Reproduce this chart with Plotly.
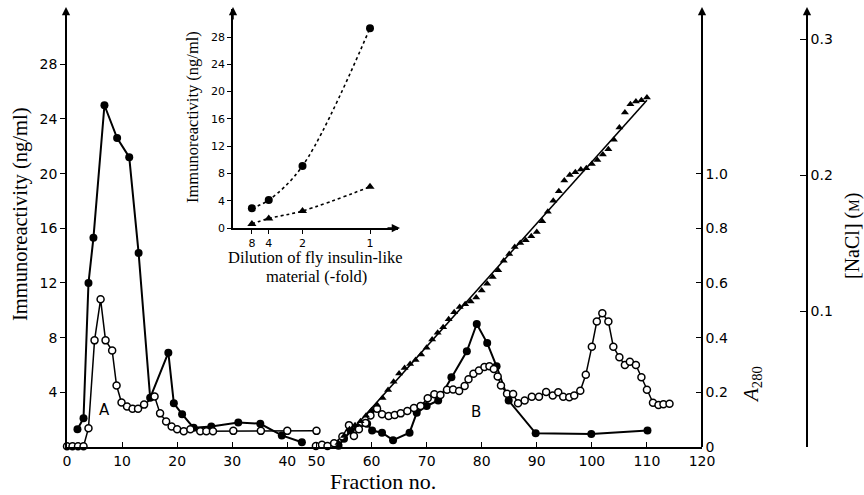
import plotly.graph_objects as go

W, H = 864, 495

# ---------------- main chart data ----------------
# closed circles: immunoreactivity (ng/ml)
closed_left_frac = [1.9, 3.0, 3.9, 4.8, 6.8, 9.1, 11.3, 13.0, 15.1, 18.4, 19.4, 20.9, 23.0, 26.2, 31.1, 35.1, 39.0, 45.0]
closed_left_ng = [1.3, 2.1, 12.0, 15.3, 25.0, 22.6, 21.2, 14.2, 3.6, 6.9, 3.2, 2.4, 1.4, 1.5, 1.8, 1.7, 0.85, 0.35]
closed_right_frac = [54.0, 55.0, 56.2, 57.5, 59.2, 60.1, 61.9, 63.9, 66.9, 68.2, 70.0, 72.1, 74.5, 77.3, 79.1, 81.0, 82.7, 84.9, 89.8, 99.9, 110.1]
closed_right_ng = [0.1, 0.6, 1.2, 1.4, 1.7, 1.2, 1.05, 0.5, 1.05, 2.5, 3.0, 3.4, 5.1, 7.0, 9.0, 7.6, 5.9, 3.4, 1.0, 0.95, 1.2]

# open circles: A280
open_left_frac = [0.0, 1.0, 2.0, 3.0, 3.9, 5.0, 6.1, 7.0, 8.2, 9.0, 9.9, 10.9, 11.9, 12.9, 14.0, 15.9, 16.9, 18.0, 19.0,
                  20.0, 21.2, 22.4, 24.2, 25.3, 26.5, 30.2, 35.2, 40.0, 50.0]
open_left_a280 = [0.003, 0.003, 0.003, 0.003, 0.069, 0.39, 0.54, 0.39, 0.353, 0.225, 0.163, 0.148, 0.14, 0.14, 0.155,
                  0.185, 0.123, 0.093, 0.075, 0.065, 0.058, 0.065, 0.058, 0.058, 0.058, 0.059, 0.059, 0.059, 0.059]
open_right_frac = [49.8, 51.0, 52.0, 53.2, 54.7, 55.9, 56.8, 57.7, 58.9, 59.8, 61.0, 61.9, 63.1, 64.2, 65.3, 66.5, 67.7,
                   68.9, 70.2, 71.4, 72.5, 73.7, 74.8, 75.9, 76.9, 77.6, 78.5, 79.5, 80.5, 81.4, 82.2, 82.9, 83.5, 84.6,
                   85.7, 86.6, 87.8, 89.1, 90.4, 91.7, 92.9, 93.9, 94.8, 95.9, 96.8, 97.9, 98.9, 100.0, 100.9, 101.9,
                   103.0, 103.9, 105.0, 106.0, 106.9, 108.0, 109.0, 110.0, 111.1, 112.1, 113.0, 114.1]
open_right_a280 = [0.004, 0.008, 0.004, 0.014, 0.038, 0.08, 0.04, 0.065, 0.088, 0.115, 0.14, 0.12, 0.113, 0.117, 0.123,
                   0.132, 0.143, 0.15, 0.178, 0.193, 0.19, 0.209, 0.21, 0.205, 0.223, 0.248, 0.268, 0.28, 0.293, 0.295,
                   0.285, 0.258, 0.225, 0.195, 0.194, 0.16, 0.17, 0.184, 0.184, 0.201, 0.188, 0.2, 0.184, 0.182, 0.188,
                   0.206, 0.264, 0.367, 0.459, 0.489, 0.459, 0.367, 0.328, 0.3, 0.312, 0.3, 0.255, 0.209, 0.162, 0.154,
                   0.156, 0.158]

# triangles: [NaCl] (M)
nacl_frac = [54, 55, 56, 57, 58, 59, 60, 61, 62, 63, 64, 65, 66, 67, 68, 69, 70, 71, 72, 73, 74, 75, 76, 77, 78, 79, 80,
             81, 82, 83, 84, 85, 86, 87, 88, 89, 90, 91, 92, 93, 94, 95, 96, 97, 98, 99, 100, 101, 102, 103, 104, 105,
             106, 107, 108, 109, 110]
nacl_m = [0.003, 0.008, 0.013, 0.016, 0.019, 0.023, 0.027, 0.031, 0.036, 0.042, 0.048, 0.054, 0.058, 0.061, 0.064,
          0.068, 0.073, 0.079, 0.084, 0.088, 0.094, 0.099, 0.103, 0.105, 0.107, 0.110, 0.115, 0.120, 0.125, 0.130,
          0.137, 0.142, 0.147, 0.150, 0.152, 0.155, 0.158, 0.166, 0.173, 0.181, 0.188, 0.196, 0.200, 0.202, 0.204,
          0.205, 0.208, 0.211, 0.215, 0.219, 0.226, 0.235, 0.246, 0.252, 0.254, 0.255, 0.257]
nacl_fit_frac = [53.7, 110]
nacl_fit_m = [0.0, 0.255]

frac_ticks = [0, 10, 20, 30, 40, 50, 60, 70, 80, 90, 100, 110, 120]
ng_ticks = [4, 8, 12, 16, 20, 24, 28]
a280_ticks = [0, 0.2, 0.4, 0.6, 0.8, 1.0]
a280_ticklabels = ["0", "0.2", "0.4", "0.6", "0.8", "1.0"]
nacl_ticks = [0, 0.1, 0.2, 0.3]
nacl_ticklabels = ["", "0.1", "0.2", "0.3"]

# ---------------- inset data ----------------
dilution = [8, 4, 2, 1]
inset_circle_ng = [2.9, 4.1, 9.1, 29.3]
inset_triangle_ng = [0.6, 1.4, 2.5, 6.05]
inset_ticks_ng = [0, 4, 8, 12, 16, 20, 24, 28]


# broken fraction axis: 40-50 compressed
def pos(f):
    if f <= 40:
        return f
    if f <= 50:
        return 40 + (f - 40) * 0.53
    return f - 4.7


def P(lst):
    return [pos(v) for v in lst]


def inv(lst):
    return [1.0 / d for d in lst]


fig = go.Figure()
blk = "black"

# closed circles
for fx, fy in [(closed_left_frac, closed_left_ng), (closed_right_frac, closed_right_ng)]:
    fig.add_trace(go.Scatter(x=P(fx), y=fy, mode="lines+markers", xaxis="x", yaxis="y",
                             line=dict(color=blk, width=2),
                             marker=dict(symbol="circle", size=8, color=blk), cliponaxis=False))
# open circles (A280)
for fx, fy in [(open_left_frac, open_left_a280), (open_right_frac, open_right_a280)]:
    fig.add_trace(go.Scatter(x=P(fx), y=fy, mode="lines+markers", xaxis="x", yaxis="y2",
                             line=dict(color=blk, width=1.5),
                             marker=dict(symbol="circle", size=7, color="white", line=dict(color=blk, width=1.5)),
                             cliponaxis=False))
# NaCl gradient
fig.add_trace(go.Scatter(x=P(nacl_fit_frac), y=nacl_fit_m, mode="lines", xaxis="x", yaxis="y3",
                         line=dict(color=blk, width=1.6)))
fig.add_trace(go.Scatter(x=P(nacl_frac), y=nacl_m, mode="markers", xaxis="x", yaxis="y3",
                         marker=dict(symbol="triangle-up", size=7, color=blk)))

# inset
fig.add_trace(go.Scatter(x=inv(dilution), y=inset_circle_ng, mode="lines+markers", xaxis="x2", yaxis="y4",
                         line=dict(color=blk, width=1.6, dash="dot", shape="spline"),
                         marker=dict(symbol="circle", size=8, color=blk), cliponaxis=False))
fig.add_trace(go.Scatter(x=inv(dilution), y=inset_triangle_ng, mode="lines+markers", xaxis="x2", yaxis="y4",
                         line=dict(color=blk, width=1.6, dash="dot", shape="spline"),
                         marker=dict(symbol="triangle-up", size=8, color=blk), cliponaxis=False))

sans = "DejaVu Sans, Verdana, sans-serif"
serif = "Liberation Serif, Times New Roman, serif"
tickfont = dict(family=sans, size=14, color=blk)
smallfont = dict(family=sans, size=11, color=blk)


def px(xp):
    return xp / W


def py(yp):
    return 1 - yp / H


main_x0, main_x1 = 67, 702
main_y0, main_top = 447, 9

common = dict(showline=True, linecolor=blk, linewidth=1.5, showgrid=False, zeroline=False,
              tickcolor=blk, automargin=False)

fig.update_layout(
    width=W, height=H, margin=dict(l=0, r=0, t=0, b=0, autoexpand=False),
    paper_bgcolor="white", plot_bgcolor="rgba(0,0,0,0)", showlegend=False,
    xaxis=dict(domain=[px(main_x0), px(main_x1)], range=[0, pos(120)], anchor="y",
               tickvals=P(frac_ticks), ticktext=[str(t) for t in frac_ticks],
               ticks="inside", ticklen=5, tickwidth=1.3, tickfont=tickfont, **common),
    yaxis=dict(domain=[py(main_y0), py(main_top)], range=[0, (main_y0 - main_top) / 13.67], anchor="x",
               tickvals=ng_ticks, ticks="outside", ticklen=5, tickwidth=1.3, tickfont=tickfont, **common),
    yaxis2=dict(domain=[py(main_y0), py(main_top)], range=[0, (main_y0 - main_top) / 13.67 / 20],
                overlaying="y", anchor="free", position=px(702), side="right",
                tickvals=a280_ticks, ticktext=a280_ticklabels, ticks="inside", ticklen=5, tickwidth=1.3,
                tickfont=tickfont, **common),
    yaxis3=dict(domain=[py(main_y0), py(main_top)], range=[0, (main_y0 - main_top) / 1360.0],
                overlaying="y", anchor="free", position=px(807), side="right",
                tickvals=nacl_ticks, ticktext=nacl_ticklabels, ticks="inside", ticklen=6, tickwidth=1.3,
                tickfont=tickfont, **common),
    xaxis2=dict(domain=[px(233), px(398)], range=[(233 - 235) / 135.0, (398 - 235) / 135.0], anchor="y4",
                tickvals=inv(dilution), ticktext=[str(d) for d in dilution],
                ticks="outside", ticklen=4, tickwidth=1.2, tickfont=smallfont, **common),
    yaxis4=dict(domain=[py(228), py(9)], range=[0, (228 - 9) / 6.82], anchor="x2",
                tickvals=inset_ticks_ng, ticks="outside", ticklen=4, tickwidth=1.2, tickfont=smallfont, **common),
)

ann = []
# arrows on axes
for (xa, ya, ax, ay) in [(66, 7, 0, 14), (702, 7, 0, 14), (807, 7, 0, 14), (233, 7, 0, 14), (400, 228, -14, 0)]:
    ann.append(dict(x=px(xa), y=py(ya), xref="paper", yref="paper", text="", showarrow=True,
                    ax=ax, ay=ay, arrowhead=2, arrowsize=1.1, arrowwidth=1.5, arrowcolor=blk))


def label(x, y, text, size, family=serif, angle=0):
    return dict(x=px(x), y=py(y), xref="paper", yref="paper", text=text, textangle=angle,
                xanchor="center", yanchor="middle", showarrow=False,
                font=dict(family=family, size=size, color=blk))


ann += [
    label(20, 214, "Immunoreactivity (ng/ml)", 20.5, angle=-90),
    label(383, 481, "Fraction no.", 22),
    label(752, 385, "<i>A</i><sub>280</sub>", 21, angle=-90),
    label(853, 236, "[NaCl] (<span style='font-size:14px'>M</span>)", 20, angle=-90),
    label(104, 410, "A", 15, family=sans),
    label(476, 412, "B", 15, family=sans),
    label(193, 117, "Immunoreactivity (ng/ml)", 16.5, angle=-90),
    label(315, 257, "Dilution of fly insulin-like", 16.5),
    label(316, 276, "material (-fold)", 16.5),
]
fig.update_layout(annotations=ann)

fig.write_html("out.html", config={"displayModeBar": False},
               post_script="document.body.style.margin='0px';document.body.style.overflow='hidden';")
